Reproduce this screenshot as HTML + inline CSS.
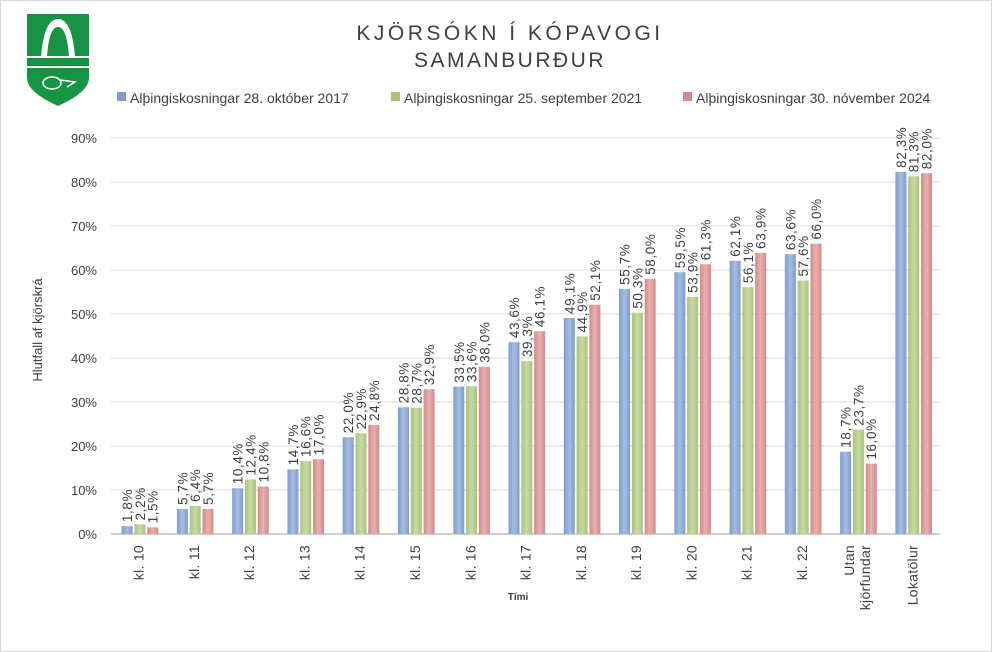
<!DOCTYPE html>
<html><head><meta charset="utf-8"><style>
body{margin:0;background:#fff}
svg{display:block;font-family:"Liberation Sans",sans-serif}
</style></head><body>
<svg id="s" width="992" height="652" viewBox="0 0 992 652">
<defs>
<linearGradient id="gb" x1="0" x2="1"><stop offset="0" stop-color="#7e9dcc"/><stop offset=".5" stop-color="#a6bde0"/><stop offset="1" stop-color="#7e9dcc"/></linearGradient>
<linearGradient id="gg" x1="0" x2="1"><stop offset="0" stop-color="#a9c47a"/><stop offset=".5" stop-color="#c8daa4"/><stop offset="1" stop-color="#a9c47a"/></linearGradient>
<linearGradient id="gr" x1="0" x2="1"><stop offset="0" stop-color="#d48a89"/><stop offset=".5" stop-color="#e6b1b0"/><stop offset="1" stop-color="#d48a89"/></linearGradient>
</defs>
<rect x="0.5" y="0.5" width="991" height="651" fill="#fff" stroke="#d9d9d9"/>
<!-- logo -->
<path d="M27 14 H89 V78 Q89 92 58 106 Q27 92 27 78 Z" fill="#179443"/>
<path d="M41 57 Q44 19 58 19 Q72 19 75 57 H69 Q67 27 58 27 Q49 27 47 57 Z" fill="#fff"/>
<rect x="27" y="56" width="62" height="2" fill="#fff"/><rect x="27" y="66" width="62" height="2" fill="#fff"/>
<ellipse cx="52" cy="83" rx="9" ry="6" fill="none" stroke="#fff" stroke-width="1.5"/>
<path d="M60 80 L75 82 L67 87" fill="none" stroke="#fff" stroke-width="1.5"/>
<text x="510" y="40" text-anchor="middle" font-size="21" fill="#404040" letter-spacing="3.5">KJÖRSÓKN  Í KÓPAVOGI</text>
<text x="510" y="67" text-anchor="middle" font-size="21" fill="#404040" letter-spacing="2.5">SAMANBURÐUR</text>
<g font-size="14" fill="#404040">
<rect x="117" y="92" width="9" height="9" fill="#7e9dcc"/><text x="130" y="103">Alþingiskosningar 28. október 2017</text>
<rect x="391" y="92" width="9" height="9" fill="#a9c47a"/><text x="404" y="103">Alþingiskosningar 25. september 2021</text>
<rect x="683" y="92" width="9" height="9" fill="#d48a89"/><text x="696" y="103">Alþingiskosningar 30. nóvember 2024</text>
</g>
<text transform="translate(42,330) rotate(-90)" text-anchor="middle" font-size="13" fill="#404040">Hlutfall af kjörskrá</text>
<text x="518" y="600" text-anchor="middle" font-size="10" font-weight="bold" fill="#404040">Tími</text>
<g id="g"></g>
</svg>
<script>
var d=[["kl. 10",1.8,2.2,1.5],["kl. 11",5.7,6.4,5.7],["kl. 12",10.4,12.4,10.8],["kl. 13",14.7,16.6,17.0],["kl. 14",22.0,22.9,24.8],["kl. 15",28.8,28.7,32.9],["kl. 16",33.5,33.6,38.0],["kl. 17",43.6,39.3,46.1],["kl. 18",49.1,44.9,52.1],["kl. 19",55.7,50.3,58.0],["kl. 20",59.5,53.9,61.3],["kl. 21",62.1,56.1,63.9],["kl. 22",63.6,57.6,66.0],["Utan|kjörfundar",18.7,23.7,16.0],["Lokatölur",82.3,81.3,82.0]];
var h='',y0=534,k=4.4,L=111,W=55.27;
for(var i=0;i<=9;i++){var y=y0-i*44;h+='<line x1="'+L+'" x2="940" y1="'+y+'" y2="'+y+'" stroke="'+(i?'#d9d9d9':'#bfbfbf')+'" stroke-width="'+(i?1:1.5)+'"/>';h+='<text x="97" y="'+(y+5)+'" text-anchor="end" font-size="13" fill="#404040">'+(i*10)+'%</text>';}
var f=['url(#gb)','url(#gg)','url(#gr)'];
d.forEach(function(r,j){var c=L+W*j+W/2;
for(var s=0;s<3;s++){var x=c-17+s*12.8,v=r[s+1],t=y0-v*k;
h+='<rect x="'+x+'" y="'+t+'" width="11" height="'+(v*k)+'" fill="'+f[s]+'"/>';
h+='<text transform="translate('+(x+10.5)+','+(t-4)+') rotate(-90)" font-size="13.5" letter-spacing="0.6" fill="#404040">'+v.toFixed(1).replace('.',',')+'%</text>';}
var ls=r[0].split('|');
ls.forEach(function(l,m){var xx=c+5-(ls.length-1)*8+m*16;h+='<text transform="translate('+xx+',545) rotate(-90)" text-anchor="end" font-size="14" letter-spacing="0.3" fill="#404040">'+l+'</text>';});
});
document.getElementById('g').innerHTML=h;
</script>
</body></html>
